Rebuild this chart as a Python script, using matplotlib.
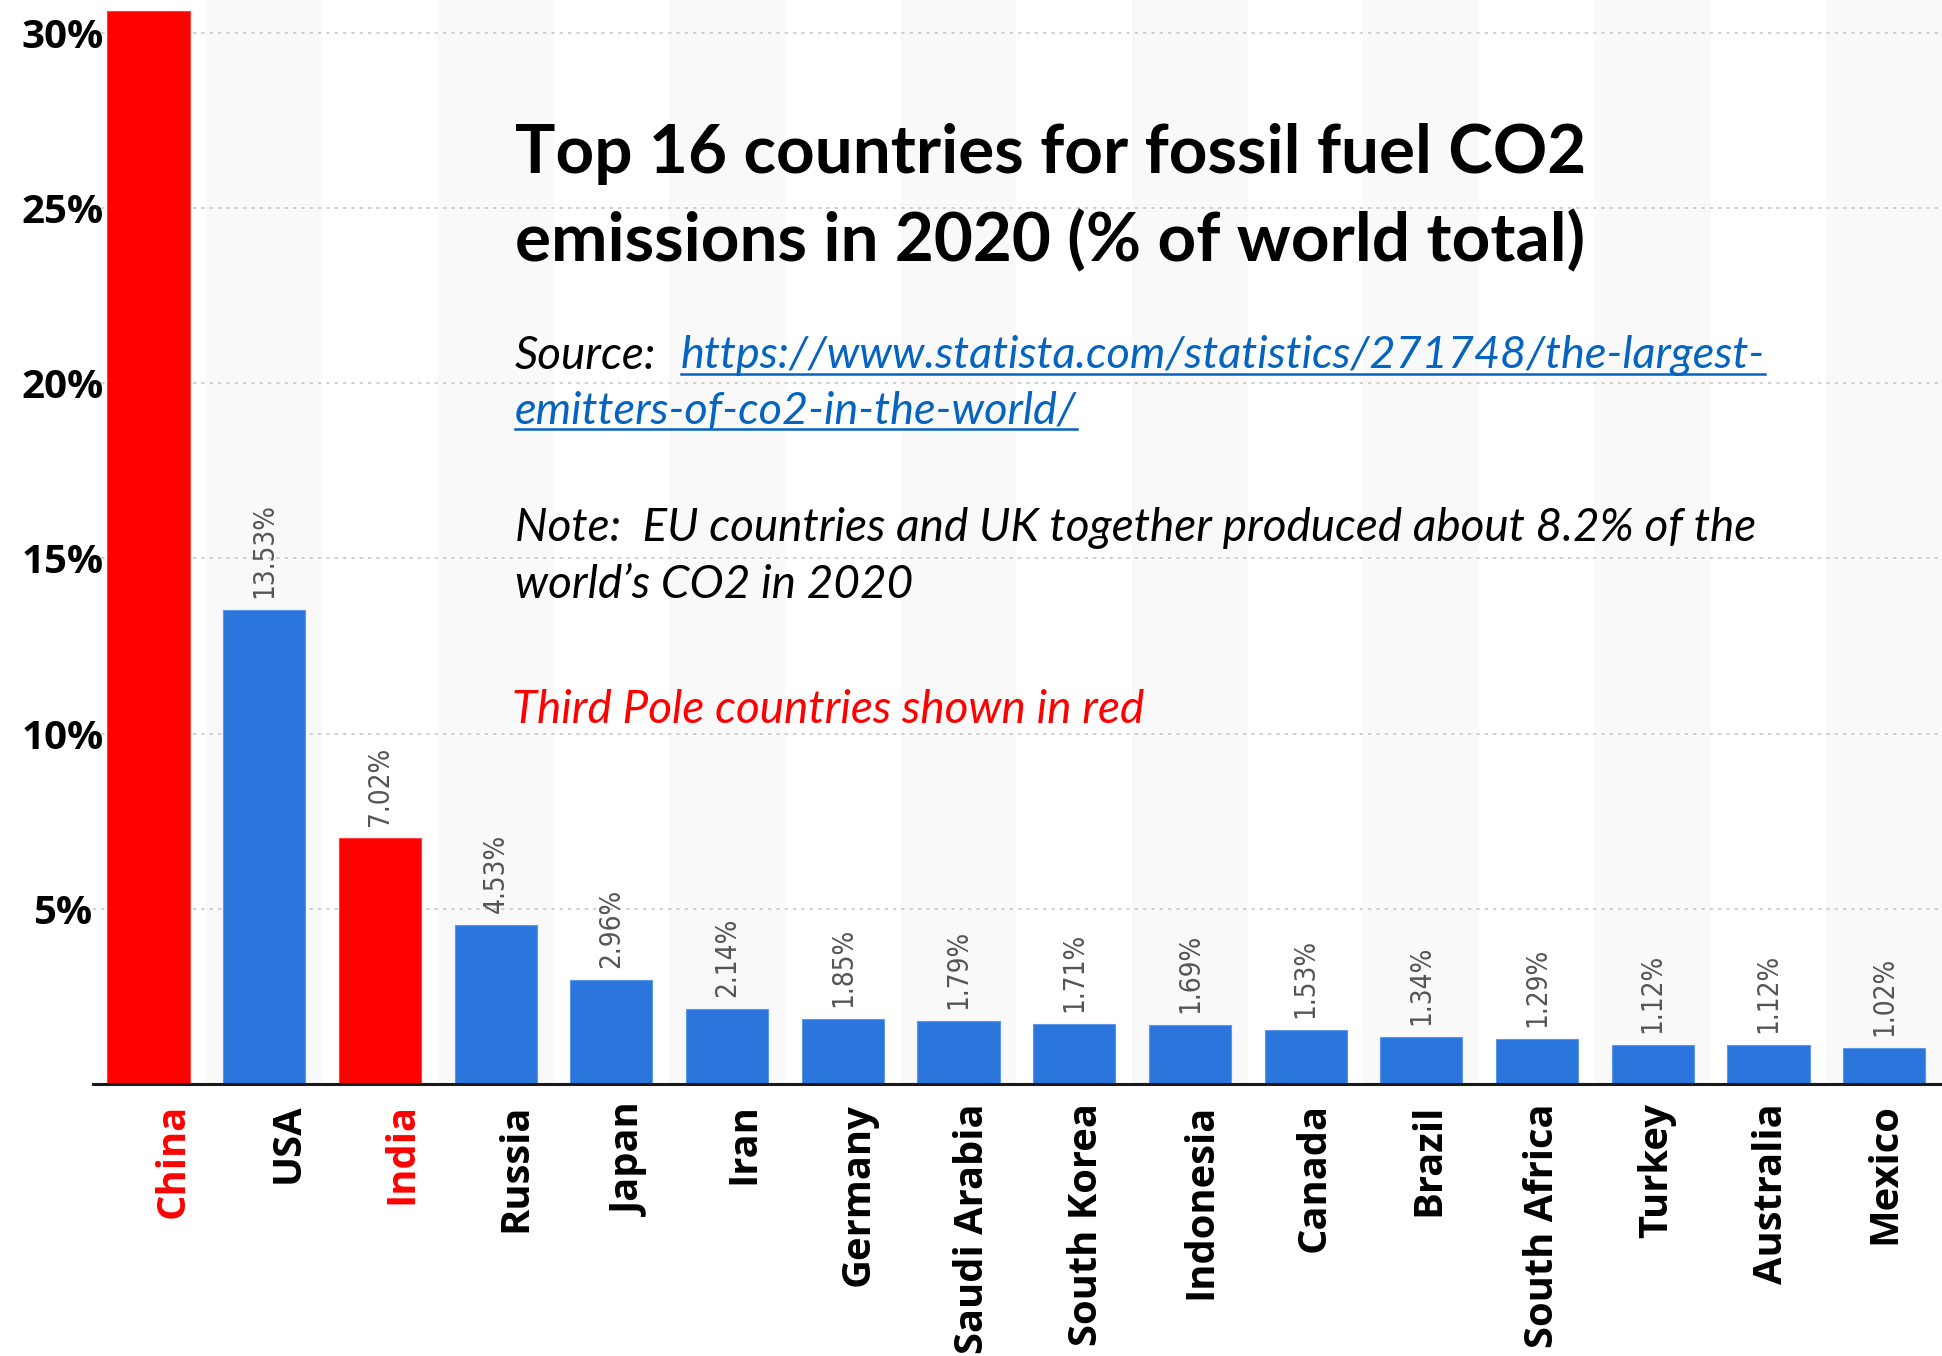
import matplotlib
matplotlib.use("Agg")
import matplotlib.pyplot as plt
import matplotlib.transforms as mtransforms
from matplotlib.lines import Line2D

countries = ["China", "USA", "India", "Russia", "Japan", "Iran", "Germany",
             "Saudi Arabia", "South Korea", "Indonesia", "Canada", "Brazil",
             "South Africa", "Turkey", "Australia", "Mexico"]
shares = [30.64, 13.53, 7.02, 4.53, 2.96, 2.14, 1.85, 1.79, 1.71, 1.69,
          1.53, 1.34, 1.29, 1.12, 1.12, 1.02]
third_pole = ["China", "India"]
yticks = [5, 10, 15, 20, 25, 30]

blue = "#2a76dd"
red = "#ff0000"

W, H = 1942, 1356
fig = plt.figure(figsize=(W / 100, H / 100), dpi=100)
ax = fig.add_axes([93 / W, 1 - 1084 / H, 1 - 93 / W, 1084 / H])

x = list(range(len(countries)))
colors = [red if c in third_pole else blue for c in countries]
ytop = 30.94

# alternate light background bands
for i in x:
    if i % 2 == 1:
        ax.axvspan(i - 0.5, i + 0.5, color="#f9f9f9", zorder=0, lw=0)

ax.bar(x, shares, width=0.71, color=colors, zorder=3,
       edgecolor=["#ff4040" if c == red else "#5c98e8" for c in colors], linewidth=0.8)

ax.set_xlim(-0.48, 15.5)
ax.set_ylim(0, ytop)

ax.tick_params(axis="y", length=0, pad=22)
ax.tick_params(axis="x", length=0, pad=14)

ax.set_yticks(yticks)
ax.set_yticklabels([f"{v}%" for v in yticks], family="Open Sans",
                   fontweight="bold", fontsize=29, ha="center")
ax.yaxis.grid(True, linestyle=(0, (2, 3)), color="#c8c8c8", linewidth=1.2, zorder=1)
ax.set_axisbelow(True)

ax.set_xticks(x)
ax.set_xticklabels(countries, rotation=90, family="Open Sans",
                   fontweight="bold", fontsize=28.7, va="top", ha="center")
# in the original the labels drift from right of centre (left) to centred (right)
for i, (lbl, c) in enumerate(zip(ax.get_xticklabels(), colors)):
    lbl.set_color(red if c == red else "black")
    dx = (25 - 1.6 * i) / 100
    lbl.set_transform(lbl.get_transform() +
                      mtransforms.ScaledTranslation(dx, 0, fig.dpi_scale_trans))

for s in ["top", "right", "left"]:
    ax.spines[s].set_visible(False)
ax.spines["bottom"].set_color("#1a1a1a")
ax.spines["bottom"].set_linewidth(2.2)
ax.spines["bottom"].set_zorder(4)

# value labels (China's would sit above the plot, as in the original)
off = mtransforms.offset_copy(ax.transData, fig=fig, x=0, y=12, units="dots")
for i, v in enumerate(shares):
    if v > ytop - 3:
        continue
    ax.text(i, v, f"{v:.2f}%", rotation=90, ha="center", va="bottom",
            transform=off, color="#555555", fontsize=20,
            family=["Liberation Sans Narrow", "DejaVu Sans"], fontstretch="condensed")

# annotation text block
tx = 515 / W
def fy(py):
    return 1 - py / H

fig.text(tx, fy(154), "Top 16 countries for fossil fuel CO2", family="Lato",
         fontweight="bold", fontsize=48.5, va="center", ha="left")
fig.text(tx, fy(242), "emissions in 2020 (% of world total)", family="Lato",
         fontweight="bold", fontsize=48.5, va="center", ha="left")

fs = 33
fig.text(tx, fy(356), "Source:", family="Lato", style="italic", fontsize=fs,
         va="center", ha="left")
link_color = "#0563c1"
l1 = fig.text(681 / W, fy(356), "https://www.statista.com/statistics/271748/the-largest-",
              family="Lato", style="italic", fontsize=fs - 0.5, va="center", ha="left",
              color=link_color)
l2 = fig.text(tx, fy(412), "emitters-of-co2-in-the-world/", family="Lato",
              style="italic", fontsize=fs - 0.5, va="center", ha="left", color=link_color)
fig.text(tx, fy(528), "Note:  EU countries and UK together produced about 8.2% of the",
         family="Lato", style="italic", fontsize=fs, va="center", ha="left")
fig.text(tx, fy(585), "world\u2019s CO2 in 2020", family="Lato", style="italic",
         fontsize=fs, va="center", ha="left")
fig.text(512 / W, fy(710), "Third Pole countries shown in red", family="Lato",
         style="italic", fontsize=fs, va="center", ha="left", color=red)

# underline the link
fig.canvas.draw()
r = fig.canvas.get_renderer()
for t in (l1, l2):
    bb = t.get_window_extent(r)
    yy = bb.y0 + 3
    fig.add_artist(Line2D([bb.x0 / W, bb.x1 / W], [yy / H, yy / H],
                          color=link_color, linewidth=1.8, transform=fig.transFigure))

fig.savefig("out.png", dpi=100)
